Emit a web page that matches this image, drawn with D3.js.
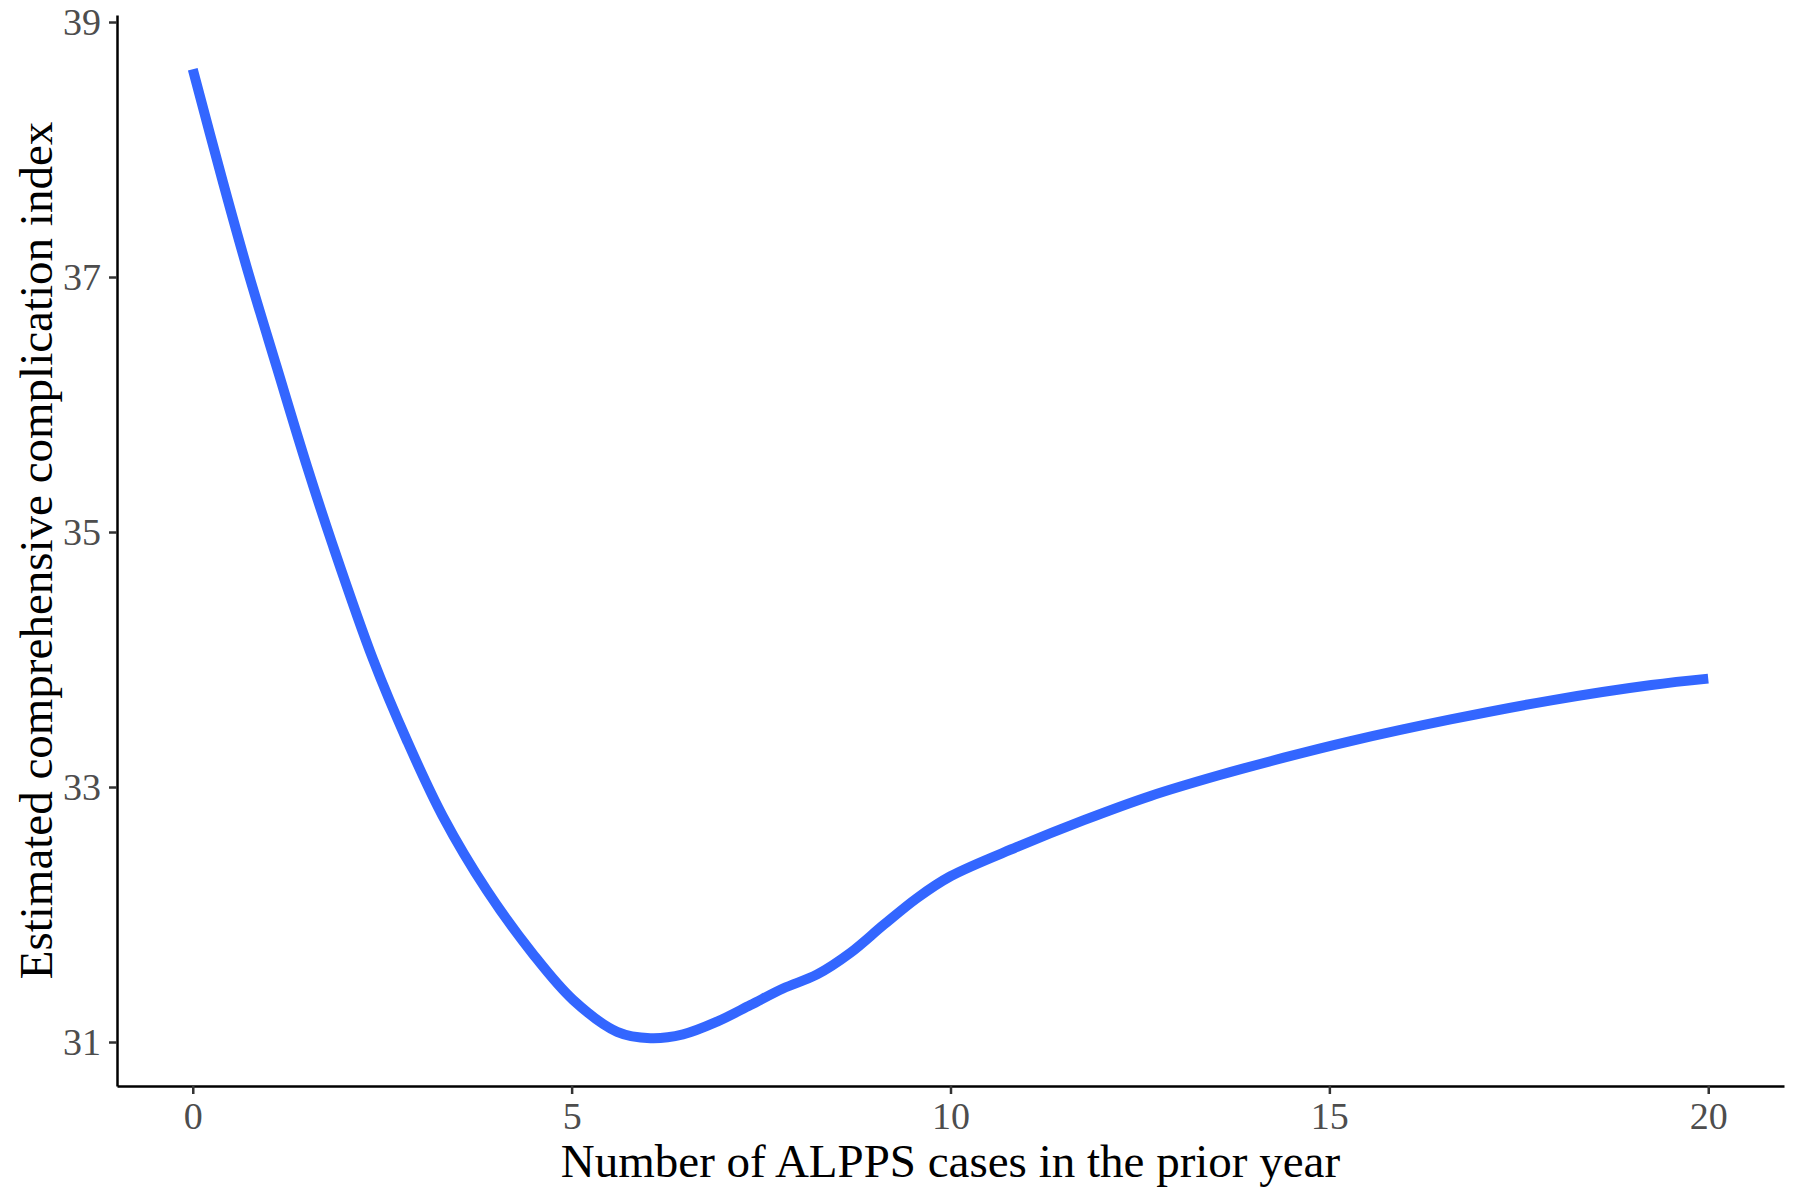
<!DOCTYPE html>
<html>
<head>
<meta charset="utf-8">
<script src="https://cdn.jsdelivr.net/npm/d3@7"></script>
<style>
  body { margin: 0; background: #fff; }
  .tick text { font-family: 'Liberation Serif', 'Times New Roman', serif; fill: #4d4d4d; }
  .axisTitle { font-family: 'Liberation Serif', 'Times New Roman', serif; fill: #000; }
</style>
</head>
<body>
<svg id="chart"></svg>
<script>
// curve values
const casesPrior = [0, 0.4, 0.71, 1.11, 1.51, 1.84, 2.38, 2.83, 3.3, 3.88, 4.49, 5.02, 5.6, 6.04, 6.47, 6.92, 7.36, 7.79, 8.24, 8.68, 9.12, 9.56, 10, 10.88, 11.76, 12.64, 13.53, 14.4, 15.28, 16.6, 17.93, 19.25, 20];
const estimatedCci = [38.63, 37.74, 37.08, 36.29, 35.51, 34.91, 34.0, 33.36, 32.77, 32.19, 31.69, 31.33, 31.08, 31.03, 31.06, 31.16, 31.29, 31.42, 31.53, 31.7, 31.92, 32.13, 32.3, 32.53, 32.74, 32.93, 33.09, 33.23, 33.36, 33.53, 33.68, 33.8, 33.85];
const xTicks = [0, 5, 10, 15, 20];
const yTicks = [31, 33, 35, 37, 39];

const width = 1800;
const height = 1199;
const margin = { top: 15, right: 16, bottom: 113, left: 117 };

const svg = d3.select('#chart')
  .attr('width', width)
  .attr('height', height);

const x = d3.scaleLinear()
  .domain([-1, 21])
  .range([margin.left, width - margin.right]);

const y = d3.scaleLinear()
  .domain([30.655, 39.055])
  .range([height - margin.bottom, margin.top]);

const points = casesPrior.map((c, i) => [c, estimatedCci[i]]);

const line = d3.line()
  .x(d => x(d[0]))
  .y(d => y(d[1]))
  .curve(d3.curveCatmullRom.alpha(0.5));

svg.append('path')
  .datum(points)
  .attr('d', line)
  .attr('fill', 'none')
  .attr('stroke', '#3366FF')
  .attr('stroke-width', 10);

const xAxis = svg.append('g')
  .attr('transform', `translate(0, ${height - margin.bottom})`)
  .call(d3.axisBottom(x).tickValues(xTicks).tickSize(8).tickSizeOuter(0).tickPadding(8));

const yAxis = svg.append('g')
  .attr('transform', `translate(${margin.left}, 0)`)
  .call(d3.axisLeft(y).tickValues(yTicks).tickSize(8).tickSizeOuter(0).tickPadding(8));

[xAxis, yAxis].forEach(a => {
  a.select('.domain').attr('stroke', '#000').attr('stroke-width', 2.5);
  a.selectAll('.tick line').attr('stroke', '#333').attr('stroke-width', 2.5);
  a.selectAll('.tick text').style('font-size', '38px');
});

// axis titles
svg.append('text')
  .attr('class', 'axisTitle')
  .attr('x', (margin.left + width - margin.right) / 2)
  .attr('y', 1177)
  .attr('text-anchor', 'middle')
  .style('font-size', '47px')
  .text('Number of ALPPS cases in the prior year');

svg.append('text')
  .attr('class', 'axisTitle')
  .attr('transform', `translate(52, ${(margin.top + height - margin.bottom) / 2}) rotate(-90)`)
  .attr('text-anchor', 'middle')
  .style('font-size', '47px')
  .text('Estimated comprehensive complication index');
</script>
</body>
</html>
